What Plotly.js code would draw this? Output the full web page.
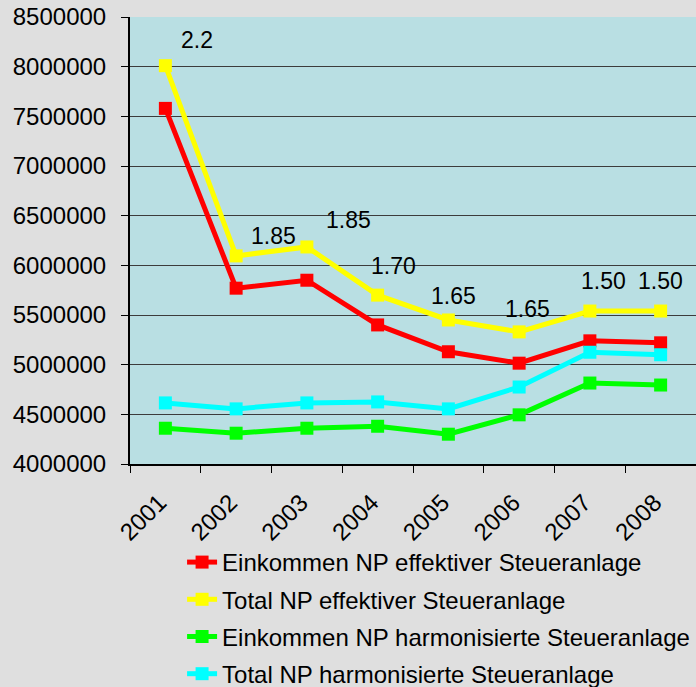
<!DOCTYPE html>
<html><head><meta charset="utf-8">
<script src="https://cdn.plot.ly/plotly-3.0.1.min.js"></script>
<style>html,body{margin:0;padding:0;background:#dfdfdf;}</style>
</head><body>
<div id="chart" style="width:696px;height:687px;"></div>
<script>
var years = ['2001','2002','2003','2004','2005','2006','2007','2008'];
var einkommenEffektiv = [7580000, 5770000, 5850000, 5400000, 5130000, 5015000, 5240000, 5220000];
var totalEffektiv = [8010000, 6095000, 6185000, 5700000, 5450000, 5330000, 5540000, 5540000];
var einkommenHarmon = [4360000, 4310000, 4360000, 4380000, 4300000, 4495000, 4815000, 4795000];
var totalHarmon = [4615000, 4555000, 4615000, 4625000, 4555000, 4775000, 5125000, 5100000];
var rateLabels = ['2.2','1.85','1.85','1.70','1.65','1.65','1.50','1.50'];
var seriesNames = ['Einkommen NP effektiver Steueranlage','Total NP effektiver Steueranlage','Einkommen NP harmonisierte Steueranlage','Total NP harmonisierte Steueranlage'];

var labelShiftX = [32, 37, 42, 16, 5, 8, 14, 0];
var labelShiftY = [26, 20, 27, 29, 24, 23, 30, 30];

var colors = ['#ff0000','#ffff00','#00ff00','#00ffff'];
var seriesData = [einkommenEffektiv, totalEffektiv, einkommenHarmon, totalHarmon];
var traces = seriesData.map(function(d,i){
  return {x: years, y: d, type:'scatter', mode:'lines+markers', name: seriesNames[i],
    legendgroup: 'g'+i,
    line:{color:colors[i], width:5}, marker:{color:colors[i], symbol:'square', size:13}};
});

var annotations = rateLabels.map(function(t,i){
  return {x: i, y: totalEffektiv[i], xref:'x', yref:'y', text:t, showarrow:false,
    xanchor:'center', yanchor:'middle',
    xshift: labelShiftX[i], yshift: labelShiftY[i],
    font:{family:'Liberation Sans, Arial, sans-serif', size:23, color:'#000000'}};
});

var layout = {
  width:696, height:687,
  margin:{l:130, r:0, t:17, b:223, autoexpand:false},
  paper_bgcolor:'#dfdfdf', plot_bgcolor:'#b9dfe3',
  font:{family:'Liberation Sans, Arial, sans-serif', size:24, color:'#000'},
  showlegend:true,
  legend:{x:0.092, xanchor:'left', y:-0.17, yanchor:'top', bgcolor:'rgba(0,0,0,0)',
    tracegroupgap:3, font:{size:24}},
  xaxis:{type:'category', tickangle:-45, showline:true, linecolor:'#000', linewidth:2,
    mirror:false, ticks:'outside', tickson:'boundaries', ticklen:7, tickcolor:'#000', tickwidth:1,
    showgrid:false, zeroline:false, tickfont:{size:24}, range:[-0.5,7.5],
    ticklabelstandoff:13, ticklabelshift:-6},
  yaxis:{range:[4000000,8500000], dtick:500000, tickformat:'d', showline:true, linecolor:'#000', linewidth:2,
    ticks:'outside', ticklen:7, tickcolor:'#000', tickwidth:1, showgrid:true, gridcolor:'#3c3c3c', gridwidth:1,
    zeroline:false, tickfont:{size:24}, ticklabelstandoff:10},
  annotations: annotations
};
Plotly.newPlot('chart', traces, layout, {displayModeBar:false});
</script>
</body></html>
